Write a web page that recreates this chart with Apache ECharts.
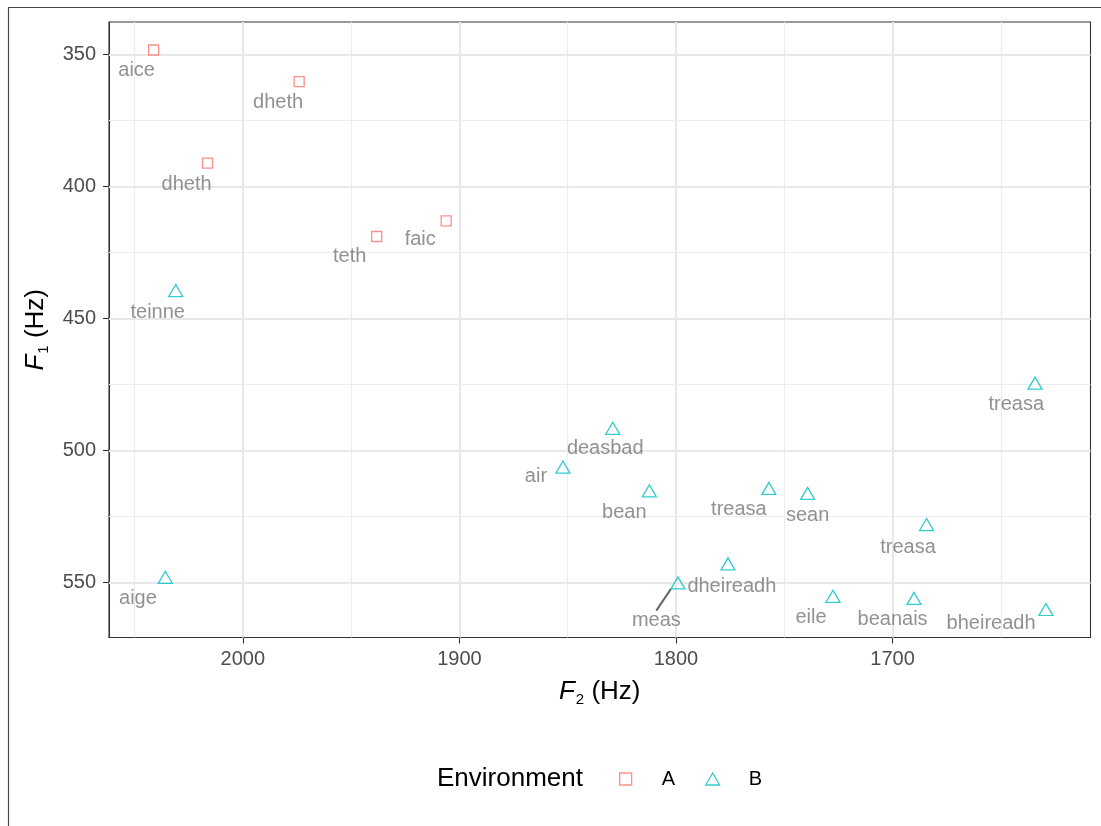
<!DOCTYPE html>
<html>
<head>
<meta charset="utf-8">
<script src="https://cdn.jsdelivr.net/npm/echarts@6/dist/echarts.min.js"></script>
<style>
  html, body { margin: 0; padding: 0; background: #ffffff; }
  #chart { width: 1101px; height: 826px; }
</style>
</head>
<body>
<div id="chart"></div>
<script>
// Environment A tokens: F2 and F1 in Hz
const wordsA = ['aice', 'dheth', 'dheth', 'teth', 'faic'];
const f2A = [2041.2, 1974.0, 2016.3, 1938.2, 1906.1];
const f1A = [348.2, 360.2, 391.1, 418.9, 413.0];

// Environment B tokens: F2 and F1 in Hz
const wordsB = ['teinne', 'aige', 'air', 'deasbad', 'bean', 'treasa', 'sean', 'treasa',
                'treasa', 'dheireadh', 'meas', 'eile', 'beanais', 'bheireadh'];
const f2B = [2031.0, 2035.8, 1852.2, 1829.2, 1812.3, 1757.1, 1739.2, 1684.3,
             1634.2, 1776.0, 1799.1, 1727.5, 1690.1, 1629.2];
const f1B = [439.4, 548.1, 506.3, 491.6, 515.3, 514.4, 516.3, 528.1,
             474.5, 543.0, 550.2, 555.3, 556.1, 560.3];

// axis breaks
const f2Ticks = [2000, 1900, 1800, 1700];
const f2Minor = [2050, 1950, 1850, 1750, 1650];
const f1Ticks = [350, 400, 450, 500, 550];
const f1Minor = [375, 425, 475, 525];

// repelled label placement: pixel shift from each point to its label centre
const nudgeA = [[-17, 20.4], [-21, 20.7], [-21, 21], [-27, 20.4], [-26, 18.3]];
const nudgeB = [[-18, 22.2], [-27.4, 21.3], [-27, 9.4], [-7.5, 20.7], [-25, 21.7],
                [-30, 21], [0, 22], [-18.5, 22.5], [-18.8, 21.7], [3.9, 22.4],
                [-21.6, 37.7], [-22, 21.6], [-21.4, 21], [-54.8, 14.3]];
const segmentLabels = ['meas'];

const FONT = '"Liberation Sans", Arial, Helvetica, sans-serif';
const COL_A = '#F8766D';
const COL_B = '#00BFC4';

// 5% padding on each side of the data range
function expand(vals) {
  const lo = Math.min(...vals), hi = Math.max(...vals);
  const pad = (hi - lo) * 0.05;
  return [lo - pad, hi + pad];
}
const [f2Min, f2Max] = expand(f2A.concat(f2B));
const [f1Min, f1Max] = expand(f1A.concat(f1B));

function gridLines(xs, ys, color, width) {
  return xs.map(v => ({ xAxis: v, lineStyle: { color: color, width: width, type: 'solid' } }))
    .concat(ys.map(v => ({ yAxis: v, lineStyle: { color: color, width: width, type: 'solid' } })));
}

function makeLayout(nudge) {
  return function (p) {
    const d = nudge[p.dataIndex];
    const out = { dx: d[0], dy: d[1] };
    if (segmentLabels.indexOf(p.text) >= 0) {
      const cx = p.rect.x + p.rect.width / 2, cy = p.rect.y + p.rect.height / 2;
      const lx = p.labelRect.x + p.labelRect.width / 2 + d[0];
      const ly = p.labelRect.y + p.labelRect.height / 2 + d[1];
      const vx = lx - cx, vy = ly - cy, len = Math.sqrt(vx * vx + vy * vy);
      const ux = vx / len, uy = vy / len;
      const back = Math.min((p.labelRect.width / 2) / Math.abs(ux || 1e-6),
                            (p.labelRect.height / 2) / Math.abs(uy || 1e-6));
      const s = [cx + ux * 4, cy + uy * 4];
      const e = [lx - ux * back, ly - uy * back];
      out.labelLinePoints = [s, [(s[0] + e[0]) / 2, (s[1] + e[1]) / 2], e];
    }
    return out;
  };
}

function points(words, f2, f1) {
  return words.map((w, i) => {
    const item = { name: w, value: [f2[i], f1[i]] };
    if (segmentLabels.indexOf(w) >= 0) {
      item.labelLine = { show: true, lineStyle: { color: '#666666', width: 2 } };
    }
    return item;
  });
}

const labelStyle = {
  show: true, position: 'inside', formatter: p => p.name,
  color: '#767676', fontSize: 20, fontFamily: FONT
};

const axisName = {
  color: '#000000', fontSize: 26, fontFamily: FONT,
  rich: {
    f: { fontStyle: 'italic', fontSize: 26, fontFamily: FONT, color: '#000' },
    s: { fontSize: 15, fontFamily: FONT, color: '#000', padding: [16, 0, 0, 1] },
    n: { fontSize: 26, fontFamily: FONT, color: '#000' }
  }
};

const chart = echarts.init(document.getElementById('chart'), null, { renderer: 'canvas' });

chart.setOption({
  animation: false,
  backgroundColor: '#ffffff',
  textStyle: { fontFamily: FONT },
  grid: {
    left: 109, top: 22, right: 10.5, bottom: 188.5,
    show: true, borderColor: '#333333', borderWidth: 1.1, backgroundColor: 'rgba(0,0,0,0)'
  },
  xAxis: {
    type: 'value', inverse: true, min: f2Min, max: f2Max,
    name: '{f|F}{s|2} {n|(Hz)}', nameLocation: 'middle', nameGap: 39,
    nameTextStyle: axisName,
    axisLine: { show: true, lineStyle: { color: '#333333', width: 1.1 } },
    axisTick: { show: true, length: 6, customValues: f2Ticks, lineStyle: { color: '#333333', width: 1.1 } },
    axisLabel: { customValues: f2Ticks, formatter: v => String(v), color: '#4d4d4d',
                 fontSize: 20, fontFamily: FONT, margin: 12 },
    splitLine: { show: false }
  },
  yAxis: {
    type: 'value', inverse: true, min: f1Min, max: f1Max,
    name: '{f|F}{s|1} {n|(Hz)}', nameLocation: 'middle', nameGap: 57,
    nameTextStyle: axisName,
    axisLine: { show: true, lineStyle: { color: '#333333', width: 1.1 } },
    axisTick: { show: true, length: 6, customValues: f1Ticks, lineStyle: { color: '#333333', width: 1.1 } },
    axisLabel: { customValues: f1Ticks, formatter: v => String(v), color: '#4d4d4d',
                 fontSize: 20, fontFamily: FONT, margin: 13 },
    splitLine: { show: false }
  },
  legend: {
    left: 614, top: 764, orient: 'horizontal',
    itemWidth: 14, itemHeight: 12, itemGap: 30,
    textStyle: { color: '#000000', fontSize: 20, fontFamily: FONT, padding: [0, 0, 0, 24] },
    data: [
      { name: 'A', icon: 'path://M0,0L10,0L10,10L0,10Z',
        itemStyle: { color: 'rgba(0,0,0,0)', borderColor: COL_A, borderWidth: 1.3 } },
      { name: 'B', icon: 'path://M7,0L14,12L0,12Z',
        itemStyle: { color: 'rgba(0,0,0,0)', borderColor: COL_B, borderWidth: 1.3 } }
    ]
  },
  graphic: [
    { type: 'rect', silent: true, z: 100,
      shape: { x: 8.5, y: 7.5, width: 2000, height: 2000 },
      style: { fill: null, stroke: '#444444', lineWidth: 1.2 } },
    { type: 'text', silent: true, left: 437, top: 766,
      style: { text: 'Environment', fill: '#000000', fontSize: 26, fontFamily: FONT } }
  ],
  series: [
    {
      name: 'grid-minor', type: 'scatter', data: [], silent: true, z: 1,
      markLine: { silent: true, symbol: ['none', 'none'], animation: false,
        label: { show: false }, emphasis: { disabled: true },
        data: gridLines(f2Minor, f1Minor, '#ececec', 1.1) }
    },
    {
      name: 'grid-major', type: 'scatter', data: [], silent: true, z: 1,
      markLine: { silent: true, symbol: ['none', 'none'], animation: false,
        label: { show: false }, emphasis: { disabled: true },
        data: gridLines(f2Ticks, f1Ticks, '#e8e8e8', 2) }
    },
    {
      name: 'A', type: 'scatter', z: 5, symbol: 'rect', symbolSize: 10,
      itemStyle: { color: 'rgba(0,0,0,0)', borderColor: COL_A, borderWidth: 1.3 },
      data: points(wordsA, f2A, f1A),
      label: labelStyle,
      labelLayout: makeLayout(nudgeA),
      emphasis: { disabled: true }
    },
    {
      name: 'B', type: 'scatter', z: 5, symbol: 'triangle', symbolSize: [14, 12],
      itemStyle: { color: 'rgba(0,0,0,0)', borderColor: COL_B, borderWidth: 1.3 },
      data: points(wordsB, f2B, f1B),
      label: labelStyle,
      labelLayout: makeLayout(nudgeB),
      emphasis: { disabled: true }
    }
  ]
});
</script>
</body>
</html>
